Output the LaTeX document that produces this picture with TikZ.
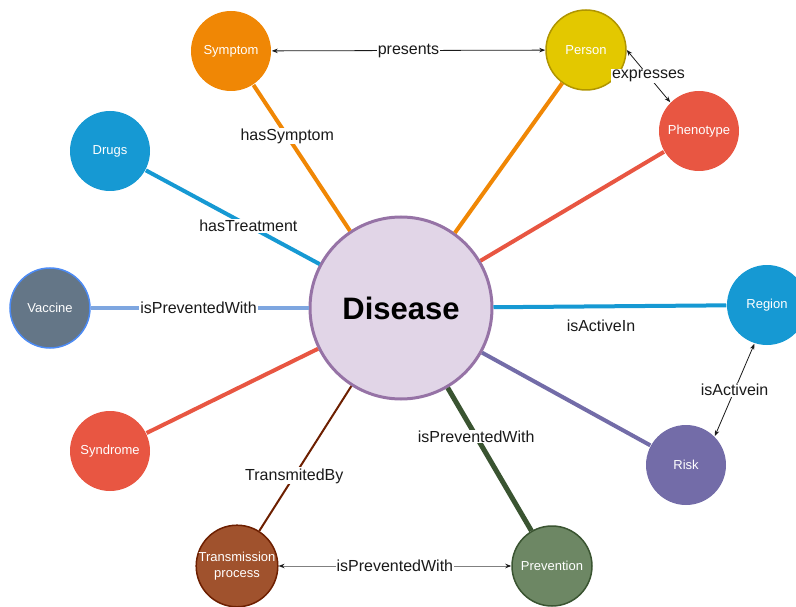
\documentclass[tikz,border=0pt]{standalone}
\usepackage{fontspec}
\setmainfont{Liberation Sans}
\usetikzlibrary{arrows.meta}
\definecolor{cOrange}{HTML}{F08705}
\definecolor{cYellow}{HTML}{E3C800}
\definecolor{cYellowD}{HTML}{B09500}
\definecolor{cRed}{HTML}{E85642}
\definecolor{cBlue}{HTML}{1699D3}
\definecolor{cSlate}{HTML}{647687}
\definecolor{cVacB}{HTML}{4C8BF5}
\definecolor{cVacE}{HTML}{7EA6E0}
\definecolor{cDis}{HTML}{E1D5E7}
\definecolor{cDisB}{HTML}{9673A6}
\definecolor{cPurple}{HTML}{736CA8}
\definecolor{cSienna}{HTML}{A0522D}
\definecolor{cBrown}{HTML}{6D1F00}
\definecolor{cGreen}{HTML}{6D8764}
\definecolor{cGreenD}{HTML}{3A5431}
\definecolor{cText}{HTML}{1A1A1A}
\begin{document}
\begin{tikzpicture}[x=1pt,y=-1pt,
  ent/.style={circle, minimum size=80pt, inner sep=0pt, text=white,
    font=\fontsize{13}{16}\selectfont, align=center, line width=1.5pt},
  lbl/.style={font=\fontsize{16}{19}\selectfont, fill=white, inner sep=1pt, text=cText},
  rel/.style={line width=4pt},
  arr/.style={line width=0.8pt, draw=cText,
    {Stealth[length=6pt,width=4.5pt]}-{Stealth[length=6pt,width=4.5pt]}}
]
\useasboundingbox (0,0) rectangle (796,607);

% entities
\node[ent, fill=cOrange] (symptom) at (231,51) {Symptom};
\node[ent, fill=cYellow, draw=cYellowD] (person) at (586,50) {Person};
\node[ent, fill=cRed] (pheno) at (699,131) {Phenotype};
\node[ent, fill=cBlue] (drugs) at (110,151) {Drugs};
\node[ent, fill=cSlate, draw=cVacB] (vaccine) at (50,308) {Vaccine};
\node[circle, minimum size=182pt, inner sep=0pt, fill=cDis, draw=cDisB, line width=3pt,
      font=\bfseries\fontsize{31}{36}\selectfont] (disease) at (401,308) {Disease};
\node[ent, fill=cBlue] (region) at (767,305) {Region};
\node[ent, fill=cRed] (syndrome) at (110,451) {Syndrome};
\node[ent, fill=cPurple] (risk) at (686,465) {Risk};
\node[ent, fill=cSienna, draw=cBrown] (trans) at (237,566) {Transmission\\process};
\node[ent, fill=cGreen, draw=cGreenD] (prev) at (552,566) {Prevention};

% relations from Disease
\draw[rel, cOrange] (symptom) -- node[lbl, pos=0.35] {hasSymptom} (disease);
\draw[rel, cOrange] (disease) -- (person);
\draw[rel, cRed] (disease) -- (pheno);
\draw[rel, cBlue] (drugs) -- node[lbl, pos=0.59] {hasTreatment} (disease);
\draw[rel, cVacE] (vaccine) -- node[lbl, pos=0.495] {isPreventedWith} (disease);
\draw[rel, cBlue] (disease) -- (region);
\node[font=\fontsize{16}{19}\selectfont, text=cText] (activeIn) at (601,326) {isActiveIn};
\draw[rel, cRed] (syndrome) -- (disease);
\draw[rel, cPurple] (disease) -- (risk);
\draw[line width=5pt, cGreenD] (disease) -- node[lbl, pos=0.34] {isPreventedWith} (prev);
\draw[line width=2pt, cBrown] (disease) -- node[lbl, pos=0.62] {TransmitedBy} (trans);

% thin arrows
\draw[arr] (symptom) -- node[lbl] {presents} (person);
\draw[arr] (person.east) -- node[lbl] {expresses} (pheno.135);
\draw[arr] (risk.45) -- node[lbl] {isActivein} (region.252);
\draw[line width=0.8pt, draw=gray,
  {Stealth[length=6pt,width=4.5pt,color=cText]}-{Stealth[length=6pt,width=4.5pt,color=cText]}]
  (trans) -- node[lbl] {isPreventedWith} (prev);
\end{tikzpicture}
\end{document}
